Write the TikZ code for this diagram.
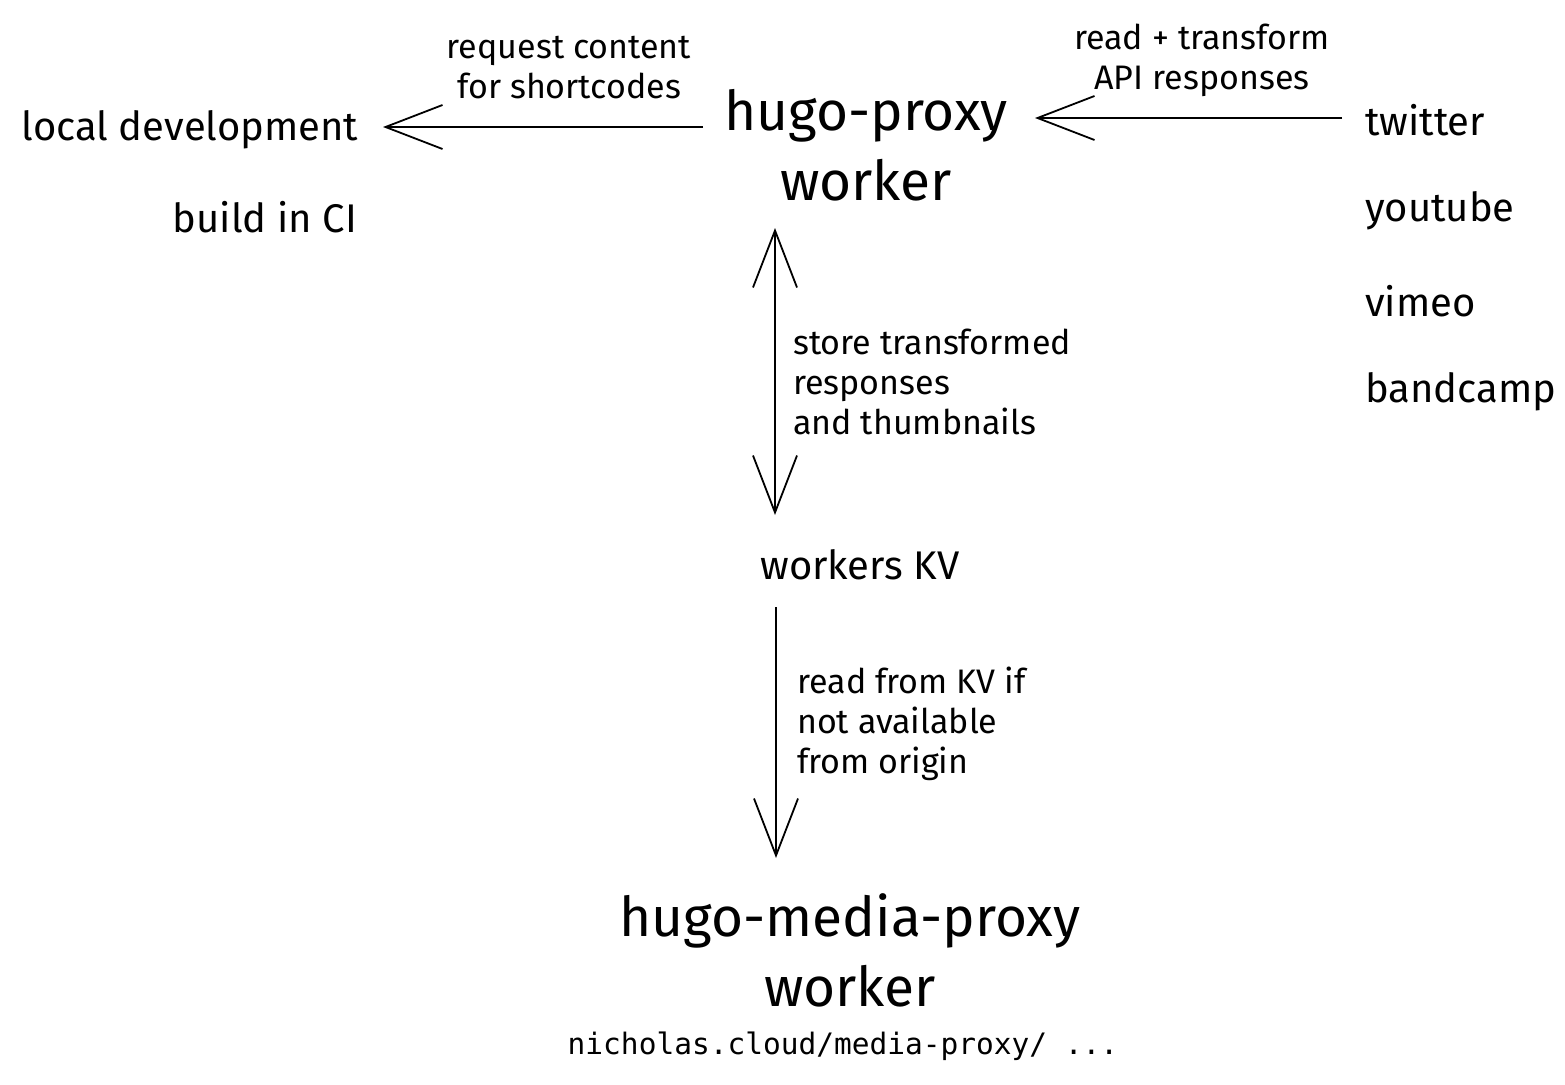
\documentclass[tikz,border=0pt]{standalone}
\usepackage{fontspec}
\setmainfont{Fira Sans}
\setmonofont{DejaVu Sans Mono}
\usetikzlibrary{arrows.meta,calc}
\tikzset{
  x=1pt, y=-1pt,
  big/.style={font=\fontsize{55}{70}\selectfont, align=center, inner sep=0pt},
  med/.style={font=\fontsize{40}{46}\selectfont, inner sep=0pt},
  lab/.style={font=\fontsize{34}{40}\selectfont, inner sep=0pt},
  url/.style={font=\ttfamily\fontsize{29.5}{36}\selectfont, inner sep=0pt},
  barb/.tip={Straight Barb[length=57pt,width=44pt,line width=1.8pt]},
  arr/.style={line width=1.8pt, -barb},
  darr/.style={line width=1.8pt, barb-barb},
}
\begin{document}
\begin{tikzpicture}
\useasboundingbox[fill=white] (0,0) rectangle (1565,1084);
\node[med] (ld) at (190,130) {local development};
\node[med, anchor=east] (ci) at (357,217) {build in CI};
\node[lab, align=center] (lreq) at (569,68) {request content\\for shortcodes};
\node[big] (hp) at (866,145) {hugo-proxy\\worker};
\node[lab, align=center] (lrd) at (1202,60) {read + transform\\API responses};
\node[med, anchor=west] (tw) at (1365,120) {twitter};
\node[med, anchor=west] (yt) at (1365,211) {youtube};
\node[med, anchor=west] (vm) at (1365,301) {vimeo};
\node[med, anchor=west] (bc) at (1365,392) {bandcamp};
\node[lab, align=left, anchor=west] (lst) at (793,382) {store transformed\\responses\\and thumbnails};
\node[med] (kv) at (860,565) {workers KV};
\node[lab, align=left, anchor=west] (lkv) at (797,724) {read from KV if\\not available\\from origin};
\node[big] (hmp) at (850,950) {hugo-media-proxy\\worker};
\node[url] (url) at (843,1046) {nicholas.cloud/media-proxy/ ...};

\draw[arr] ($(hp)+(-163,-18)$) -- ($(ld)+(193,-3)$);
\draw[arr] ($(tw.west)+(-23,-2)$) -- ($(hp)+(169,-27)$);
\draw[darr] ($(hp)+(-91,83)$) -- ($(kv)+(-85,-50)$);
\draw[arr] ($(kv)+(-84,42)$) -- ($(hmp)+(-74,-92)$);
\end{tikzpicture}
\end{document}
